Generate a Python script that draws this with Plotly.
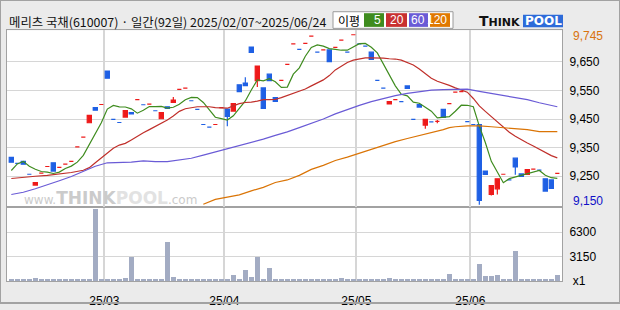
import plotly.graph_objects as go
import pandas as pd

# ---------------- data ----------------
opens = [9316, 9295, 9302, 9257, 9219, 9261, 9284, 9297, 9281, 9292,
         9302, 9353, 9387, 9437, 9490, 9501, 9618, 9449, 9438, 9457,
         9473, 9518, 9500, 9502, 9479, 9451, 9493, 9508, 9554, 9558,
         9514, 9484, 9431, 9422, 9431, 9490, 9485, 9478, 9570, 9576,
         9702, 9584, 9559, 9607, 9525, 9585, 9641, 9713, 9694, 9715,
         9740, 9684, 9692, 9692, 9701, 9726, 9684, 9745, 9713, 9705,
         9684, 9585, 9558, 9503, 9518, 9511, 9566, 9449, 9501, 9429,
         9440, 9442, 9484, 9504, 9544, 9546, 9441, 9431, 9431, 9268,
         9186, 9206, 9257, 9237, 9313, 9258, 9256, 9275, 9271, 9241,
         9237, 9260]
highs = [9316, 9295, 9302, 9257, 9228, 9261, 9284, 9297, 9281, 9292,
         9302, 9353, 9387, 9463, 9490, 9501, 9618, 9449, 9438, 9480,
         9473, 9518, 9500, 9502, 9479, 9473, 9493, 9527, 9554, 9558,
         9514, 9484, 9431, 9422, 9431, 9490, 9485, 9504, 9570, 9596,
         9702, 9635, 9559, 9607, 9525, 9585, 9641, 9713, 9694, 9715,
         9740, 9684, 9692, 9692, 9701, 9726, 9684, 9745, 9713, 9705,
         9684, 9585, 9558, 9511, 9518, 9511, 9566, 9449, 9501, 9449,
         9440, 9447, 9484, 9504, 9544, 9546, 9441, 9431, 9431, 9268,
         9217, 9241, 9257, 9237, 9313, 9258, 9273, 9275, 9271, 9241,
         9237, 9260]
lows = [9299, 9295, 9292, 9257, 9219, 9261, 9284, 9268, 9281, 9292,
        9302, 9353, 9387, 9437, 9481, 9501, 9593, 9449, 9438, 9457,
        9468, 9518, 9500, 9502, 9479, 9451, 9487, 9508, 9554, 9558,
        9514, 9484, 9431, 9422, 9431, 9490, 9425, 9478, 9546, 9567,
        9683, 9562, 9487, 9584, 9512, 9585, 9641, 9713, 9694, 9715,
        9740, 9684, 9692, 9651, 9701, 9726, 9684, 9745, 9713, 9705,
        9659, 9585, 9558, 9503, 9518, 9511, 9557, 9449, 9492, 9416,
        9440, 9435, 9456, 9504, 9544, 9546, 9441, 9431, 9150, 9256,
        9183, 9186, 9257, 9237, 9255, 9249, 9256, 9275, 9271, 9198,
        9207, 9260]
closes = [9299, 9295, 9292, 9257, 9228, 9261, 9284, 9268, 9281, 9292,
          9302, 9353, 9387, 9463, 9481, 9501, 9593, 9449, 9438, 9480,
          9468, 9518, 9500, 9502, 9479, 9473, 9487, 9516, 9554, 9558,
          9514, 9484, 9431, 9422, 9431, 9490, 9459, 9504, 9546, 9567,
          9683, 9635, 9487, 9584, 9512, 9585, 9641, 9713, 9694, 9715,
          9740, 9684, 9692, 9651, 9701, 9726, 9684, 9745, 9713, 9705,
          9659, 9585, 9558, 9511, 9518, 9511, 9557, 9449, 9492, 9449,
          9440, 9442, 9456, 9504, 9544, 9546, 9441, 9431, 9165, 9256,
          9217, 9241, 9257, 9237, 9283, 9249, 9273, 9275, 9271, 9198,
          9207, 9260]
volumes = [130, 130, 130, 130, 400, 280, 130, 130, 130, 130,
           130, 130, 130, 280, 9300, 130, 130, 130, 130, 400,
           3110, 130, 130, 130, 130, 280, 4980, 530, 130, 130,
           130, 130, 130, 130, 130, 130, 280, 790, 130, 1420,
           530, 3110, 130, 1680, 130, 130, 130, 130, 130, 130,
           130, 130, 130, 130, 130, 400, 130, 130, 130, 130,
           130, 130, 130, 400, 130, 130, 130, 130, 130, 130,
           130, 130, 130, 910, 130, 130, 130, 130, 2180, 570,
           570, 790, 130, 130, 3840, 130, 130, 130, 130, 130,
           130, 790]

ma5_head = [9270, 9293, 9302, 9285]
ma20_idx = [0, 2, 4, 6, 8, 10, 12, 13, 14, 15, 16, 17, 18, 19, 20, 21, 22, 23, 24, 25,
            26, 27, 28, 29, 30, 31, 32, 33, 34, 35, 36, 37, 38, 39, 40, 41, 42, 43, 44,
            45, 46, 47, 48, 49, 50, 51, 52, 53, 54, 55, 56, 57, 58, 59, 60, 61, 62, 63,
            64, 65, 66, 67, 68, 69, 70, 71, 72, 73, 74, 75, 76, 77, 78, 79, 80, 81, 82,
            83, 84, 85, 86, 87, 88, 89, 90, 91]
ma20_val = [9242, 9247, 9250, 9253, 9257, 9263, 9271, 9280, 9297, 9314, 9333, 9348, 9359,
            9365, 9377, 9391, 9402, 9413, 9424, 9436, 9447, 9461, 9477, 9486, 9490, 9493,
            9493, 9493, 9490, 9489, 9488, 9496, 9504, 9508, 9509, 9513, 9518, 9518, 9519,
            9525, 9532, 9539, 9547, 9555, 9566, 9576, 9587, 9602, 9622, 9635, 9648, 9656,
            9661, 9664, 9664, 9664, 9663, 9661, 9660, 9656, 9648, 9639, 9625, 9610, 9593,
            9582, 9576, 9568, 9559, 9551, 9544, 9522, 9496, 9477, 9459, 9439, 9420, 9404,
            9390, 9377, 9366, 9356, 9345, 9333, 9322, 9314]
ma60_idx = [0, 2, 4, 6, 8, 10, 12, 14, 16, 18, 20, 22, 24, 26, 28, 30, 32, 34, 36, 38,
            40, 42, 44, 46, 48, 50, 52, 54, 56, 58, 60, 62, 64, 66, 68, 70, 72, 74, 76,
            78, 80, 82, 84, 86, 88, 90, 91]
ma60_val = [9186, 9194, 9206, 9219, 9234, 9249, 9267, 9285, 9297, 9299, 9299, 9304, 9301,
            9301, 9308, 9313, 9324, 9335, 9345, 9357, 9367, 9380, 9393, 9405, 9420, 9435,
            9450, 9468, 9484, 9498, 9511, 9522, 9532, 9540, 9546, 9551, 9553, 9555, 9555,
            9547, 9540, 9532, 9524, 9518, 9507, 9497, 9493]
ma120_idx = [32, 34, 36, 38, 40, 42, 44, 46, 48, 50, 52, 54, 56, 58, 60, 62, 64, 66, 68,
             70, 72, 73, 74, 76, 78, 80, 82, 84, 86, 88, 91]
ma120_val = [9152, 9169, 9177, 9185, 9199, 9211, 9228, 9237, 9253, 9274, 9288, 9305, 9317,
             9331, 9345, 9357, 9371, 9382, 9392, 9404, 9413, 9420, 9423, 9426, 9426, 9423,
             9420, 9415, 9413, 9406, 9406]

month_labels = ['25/03', '25/04', '25/05', '25/06']
month_first_idx = [16, 36, 58, 77]
price_ticks = [9250, 9350, 9450, 9550, 9650]
vol_ticks = [0, 3150, 6300]
vol_tick_labels = ['\u00a0x1', '3150', '6300']
title_text = '메리츠 국채(610007) · 일간(92일) 2025/02/07~2025/06/24'
ma_labels = ['5', '20', '60', '120']

# ---------------- styling ----------------
W, H = 620, 310
RED, BLUE = '#EE1A1A', '#1F60E4'
C5, C20, C60, C120 = '#3F8C1F', '#C0302B', '#6A5BD6', '#DA7406'
GRID = '#D6D6D6'
FRAME = '#A2A2A2'
FONT = 'Liberation Sans'


def fx(p):
    return p / W


def fy(p):
    return 1 - p / H


idx = list(range(len(closes)))
cs = pd.Series(closes, dtype=float)
ma5 = ma5_head + list(cs.rolling(5).mean().iloc[len(ma5_head):])

fig = go.Figure()
for xs, ys, col in [(idx, ma5, C5), (ma20_idx, ma20_val, C20),
                    (ma60_idx, ma60_val, C60), (ma120_idx, ma120_val, C120)]:
    fig.add_trace(go.Scatter(x=xs, y=ys, mode='lines', line=dict(color=col, width=1.2),
                             xaxis='x2', yaxis='y', hoverinfo='skip', showlegend=False))

fig.add_trace(go.Candlestick(
    x=idx, open=opens, high=highs, low=lows, close=closes,
    increasing=dict(line=dict(color=RED, width=1.2), fillcolor=RED),
    decreasing=dict(line=dict(color=BLUE, width=1.2), fillcolor=BLUE),
    whiskerwidth=0, xaxis='x2', yaxis='y', showlegend=False))

fig.add_trace(go.Bar(x=idx, y=volumes, marker=dict(color='#A3ACC3', line=dict(width=0)),
                     width=0.8, xaxis='x', yaxis='y2', showlegend=False))

xdom = [fx(7), fx(562)]
xrng = [-0.72, 91.78]
month_pos = [i - 0.5 for i in month_first_idx]
tickfont = dict(family=FONT, size=12, color='#000000')

fig.update_layout(
    width=W, height=H, margin=dict(l=0, r=0, t=0, b=0),
    paper_bgcolor='#EBEBEB', plot_bgcolor='#FFFFFF',
    boxgap=0.3, boxgroupgap=0, bargap=0,
    xaxis=dict(domain=xdom, anchor='y2', range=xrng, tickvals=month_pos, ticktext=month_labels,
               showgrid=True, gridcolor=GRID, gridwidth=2, zeroline=False,
               showline=True, linecolor=FRAME, linewidth=1, mirror=True,
               ticks='', tickfont=tickfont, ticklabelstandoff=8,
               rangeslider=dict(visible=False)),
    xaxis2=dict(domain=xdom, anchor='y', matches='x', range=xrng, tickvals=month_pos,
                showticklabels=False, showgrid=True, gridcolor=GRID, gridwidth=2,
                zeroline=False, showline=True, linecolor=FRAME, linewidth=1, mirror=True,
                ticks='', rangeslider=dict(visible=False)),
    yaxis=dict(domain=[fy(212), fy(31)], anchor='x2', side='right', range=[9141.6, 9760.5],
               tickvals=price_ticks, ticktext=[f'{v:,}' for v in price_ticks],
               showgrid=True, gridcolor=GRID, gridwidth=1, zeroline=False,
               showline=True, linecolor=FRAME, linewidth=1, mirror=True,
               ticks='', tickfont=tickfont, ticklabelstandoff=4),
    yaxis2=dict(domain=[fy(287.7), fy(212)], anchor='x', side='right', range=[-40, 9520],
                tickvals=vol_ticks, ticktext=vol_tick_labels,
                showgrid=True, gridcolor=GRID, gridwidth=1, zeroline=False,
                showline=True, linecolor=FRAME, linewidth=1, mirror=True,
                ticks='', tickfont=tickfont, ticklabelstandoff=4),
    hovermode=False,
)

shapes = []
annotations = []

# outer frame
shapes.append(dict(type='rect', xref='paper', yref='paper', x0=0, x1=1, y0=0, y1=1,
                   line=dict(color=FRAME, width=2), layer='above'))

# header title
annotations.append(dict(xref='paper', yref='paper', x=fx(7), y=fy(22), xanchor='left',
                        yanchor='middle', showarrow=False, text=title_text,
                        font=dict(family='Noto Sans CJK KR', size=12.4, color='#111111')))

# MA legend box
shapes.append(dict(type='rect', xref='paper', yref='paper', x0=fx(333), x1=fx(453),
                   y0=fy(29), y1=fy(12), line=dict(color='#9A9A9A', width=1),
                   fillcolor='#FFFFFF'))
annotations.append(dict(xref='paper', yref='paper', x=fx(349), y=fy(20.5), showarrow=False,
                        xanchor='center', yanchor='middle', text='이평',
                        font=dict(family='Noto Sans CJK KR', size=12, color='#000000')))
boxes = [(364, 384, C5), (386, 407, '#C83030'), (409, 428, C60), (430, 450, '#E07800')]
for (x0, x1, col), lab in zip(boxes, ma_labels):
    shapes.append(dict(type='rect', xref='paper', yref='paper', x0=fx(x0), x1=fx(x1),
                       y0=fy(27.5), y1=fy(13.5), line=dict(width=0), fillcolor=col))
    annotations.append(dict(xref='paper', yref='paper', x=fx(x1 - 1), y=fy(20.5),
                            xanchor='right', yanchor='middle', showarrow=False, text=lab,
                            font=dict(family=FONT, size=12, color='#FFFFFF')))

# THINKPOOL logo
annotations.append(dict(xref='paper', yref='paper', x=fx(522), y=fy(21.5), xanchor='right',
                        yanchor='middle', showarrow=False,
                        text="<b>T<span style='font-size:11px'>HINK</span></b>",
                        font=dict(family='DejaVu Sans', size=14, color='#111111')))
shapes.append(dict(type='rect', xref='paper', yref='paper', x0=fx(523), x1=fx(563),
                   y0=fy(28), y1=fy(15), line=dict(width=0), fillcolor='#2D6BD9'))
annotations.append(dict(xref='paper', yref='paper', x=fx(543), y=fy(21.5), showarrow=False,
                        xanchor='center', yanchor='middle', text='<b>POOL</b>',
                        font=dict(family='DejaVu Sans', size=12, color='#FFFFFF')))

# watermark
annotations.append(dict(xref='paper', yref='paper', x=fx(22), y=fy(203), xanchor='left',
                        yanchor='middle', showarrow=False,
                        text="www.<span style='font-size:17px'><b>THINK</b></span>"
                             "<span style='font-size:17px;color:#E2E2E2'><b>POOL</b></span>.com",
                        font=dict(family='DejaVu Sans', size=12, color='#CBCBCB')))

# max / min labels on the price axis
hi_v = max(highs)
lo_v = min(lows)
annotations.append(dict(xref='paper', yref='y', x=fx(571), y=hi_v, xanchor='left',
                        yanchor='middle', showarrow=False, text=f'{hi_v:,}', yshift=-1,
                        font=dict(family=FONT, size=12, color='#D9730D')))
annotations.append(dict(xref='paper', yref='y', x=fx(571), y=lo_v, xanchor='left',
                        yanchor='middle', showarrow=False, text=f'{lo_v:,}', yshift=4,
                        font=dict(family=FONT, size=12, color='#1010C8')))

fig.update_layout(shapes=shapes, annotations=annotations)
fig.write_html('out.html')
